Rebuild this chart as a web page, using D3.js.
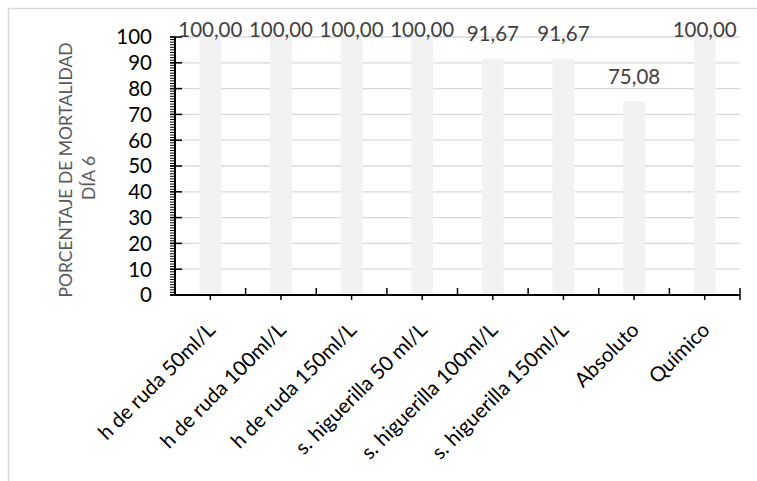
<!DOCTYPE html>
<html><head><meta charset="utf-8">
<script src="https://cdn.jsdelivr.net/npm/d3@7/dist/d3.min.js"></script>
<style>body{margin:0;background:#fff} svg text{font-family:Lato, "Open Sans", sans-serif}</style>
</head><body><svg id="c" width="757" height="481"></svg>
<script>
const categories = ["h de ruda 50ml/L","h de ruda 100ml/L","h de ruda 150ml/L","s. higuerilla 50 ml/L","s. higuerilla 100ml/L","s. higuerilla 150ml/L","Absoluto","Químico"];
const values = [100, 100, 100, 100, 91.67, 91.67, 75.08, 100];
const yTicks = [0, 10, 20, 30, 40, 50, 60, 70, 80, 90, 100];
const yTitle = ["PORCENTAJE DE MORTALIDAD", "DÍA 6"];

const svg = d3.select("#c");
const L = 175, R = 740, T = 37, B = 295;
const FS = 20.5;
const fmt = v => d3.format(".2f")(v).replace(".", ",");

svg.append("rect").attr("x", 8.5).attr("y", 8.5).attr("width", 800).attr("height", 500)
  .attr("fill", "#fff").attr("stroke", "#d9d9d9").attr("stroke-width", 1.5);

const y = d3.scaleLinear().domain([0, 100]).range([B, T]);
const x = d3.scaleBand().domain(categories).range([L, R]).paddingInner(0.69).paddingOuter(0.345);
const step = x.step();

// gridlines
svg.append("g").selectAll("line").data(yTicks.filter(d => d > 0)).join("line")
  .attr("x1", L).attr("x2", R).attr("y1", d => y(d)).attr("y2", d => y(d))
  .attr("stroke", "#d9d9d9").attr("stroke-width", 1.3);

// bars
svg.append("g").selectAll("rect").data(values).join("rect")
  .attr("x", (d, i) => x(categories[i])).attr("width", x.bandwidth())
  .attr("y", d => y(d)).attr("height", d => B - y(d)).attr("fill", "#f2f2f2");

// data labels
svg.append("g").selectAll("text").data(values).join("text")
  .attr("x", (d, i) => x(categories[i]) + x.bandwidth() / 2)
  .attr("y", d => Math.max(y(d) - 17, T - 0.5))
  .attr("text-anchor", "middle").attr("font-size", FS).attr("fill", "#404040")
  .text(d => fmt(d));

// y axis
const yMinor = d3.range(0, 101, 1);
const ya = svg.append("g");
ya.selectAll("line.mn").data(yMinor).join("line").attr("class", "mn")
  .attr("x1", L - 5).attr("x2", L).attr("y1", d => y(d)).attr("y2", d => y(d))
  .attr("stroke", "#000").attr("stroke-width", 1);
ya.selectAll("line.mj").data(yTicks).join("line").attr("class", "mj")
  .attr("x1", L - 5).attr("x2", L + 7).attr("y1", d => y(d)).attr("y2", d => y(d))
  .attr("stroke", "#000").attr("stroke-width", 1.5);
ya.append("line").attr("x1", L).attr("x2", L).attr("y1", T).attr("y2", B)
  .attr("stroke", "#000").attr("stroke-width", 2);
ya.selectAll("text").data(yTicks).join("text")
  .attr("x", 152).attr("y", d => y(d)).attr("dy", "0.36em")
  .attr("text-anchor", "end").attr("font-size", FS).attr("fill", "#000")
  .text(d => d);

// x axis
const xa = svg.append("g");
xa.append("line").attr("x1", L - 5).attr("x2", R).attr("y1", B).attr("y2", B)
  .attr("stroke", "#000").attr("stroke-width", 2);
xa.selectAll("line.dn").data(categories).join("line").attr("class", "dn")
  .attr("x1", d => x(d) + x.bandwidth() / 2).attr("x2", d => x(d) + x.bandwidth() / 2)
  .attr("y1", B).attr("y2", B + 5).attr("stroke", "#000").attr("stroke-width", 1.5);
xa.selectAll("line.up").data(d3.range(1, categories.length + 1)).join("line").attr("class", "up")
  .attr("x1", k => L + k * step).attr("x2", k => L + k * step)
  .attr("y1", B - 7).attr("y2", (k) => k === categories.length ? B + 5 : B)
  .attr("stroke", "#000").attr("stroke-width", 1.5);
xa.selectAll("text").data(categories).join("text")
  .attr("transform", d => `translate(${x(d) + x.bandwidth() / 2 + 1},${B + 31}) rotate(-45)`)
  .attr("dy", "0.36em").attr("text-anchor", "end").attr("font-size", FS).attr("fill", "#000")
  .text(d => d);

// y title
const yc = [170, 178];
svg.append("g").selectAll("text").data(yTitle).join("text")
  .attr("transform", (d, i) => `translate(${72 + i * 23},${yc[i]}) rotate(-90)`)
  .attr("text-anchor", "middle").attr("font-size", 17.5).attr("fill", "#595959")
  .text(d => d);
</script></body></html>
